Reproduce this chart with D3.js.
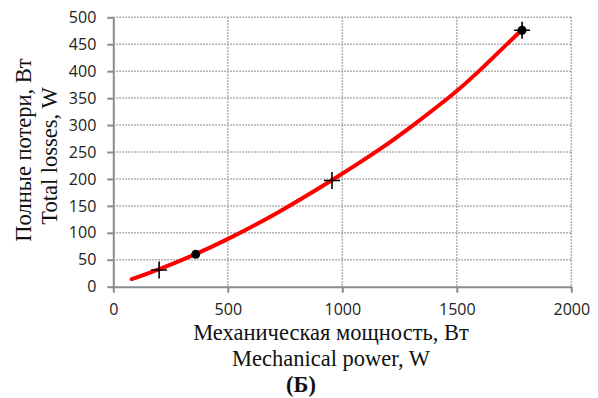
<!DOCTYPE html>
<html>
<head>
<meta charset="utf-8">
<script src="https://cdn.jsdelivr.net/npm/d3@7"></script>
<style>
  body { margin: 0; background: #fff; }
  .tick text { font-family: "Open Sans", sans-serif; font-size: 16px; fill: #222; }
  .title { font-family: "Liberation Serif", "Times New Roman", serif; font-size: 22.5px; fill: #111; }
</style>
</head>
<body>
<div id="chart"></div>
<script>
// curve
var curveX = [80, 200, 360, 500, 700, 955, 1174, 1305, 1500, 1590, 1706, 1785];
var curveY = [14, 32, 60, 88, 132, 197, 257, 298, 362, 397, 445, 477];

// measured points
var crossX = [200, 955, 1785];
var crossY = [31, 197, 476];
var dotX = [360, 1785];
var dotY = [60, 476];

var xTicks = [0, 500, 1000, 1500, 2000];
var yTicks = [0, 50, 100, 150, 200, 250, 300, 350, 400, 450, 500];

var width = 598, height = 398;
var plotLeft = 113.3, plotRight = 571.3, plotTop = 17.3, plotBottom = 286.7;

var svg = d3.select("#chart")
            .append("svg")
            .attr("width", width)
            .attr("height", height)

var x = d3.scaleLinear().domain([0, 2000]).range([plotLeft, plotRight])
var y = d3.scaleLinear().domain([0, 500]).range([plotBottom, plotTop])

// dotted grid
svg.append("g")
    .selectAll("line")
    .data(yTicks.slice(1))
    .enter()
    .append("line")
    .attr("x1", plotLeft).attr("x2", plotRight)
    .attr("y1", function(d) { return y(d) })
    .attr("y2", function(d) { return y(d) })
    .style("stroke", "#999")
    .style("stroke-width", 1.5)
    .style("stroke-dasharray", "1.5,1.5")

svg.append("g")
    .selectAll("line")
    .data(xTicks.slice(1))
    .enter()
    .append("line")
    .attr("y1", plotTop).attr("y2", plotBottom)
    .attr("x1", function(d) { return x(d) })
    .attr("x2", function(d) { return x(d) })
    .style("stroke", "#999")
    .style("stroke-width", 1.5)
    .style("stroke-dasharray", "1.5,1.5")

// axes
svg.append("g")
    .attr("transform", "translate(0," + plotBottom + ")")
    .call(d3.axisBottom(x).tickValues(xTicks).tickFormat(d3.format("d"))
        .tickSize(6).tickPadding(11).tickSizeOuter(0))
svg.append("g")
    .attr("transform", "translate(" + plotLeft + ",0)")
    .call(d3.axisLeft(y).tickValues(yTicks).tickFormat(d3.format("d"))
        .tickSize(6).tickPadding(11).tickSizeOuter(0))

svg.selectAll(".domain, .tick line")
    .style("stroke", "#8c8c8c")
    .style("stroke-width", 2)

// red curve
var pts = curveX.map(function(d, i) { return [d, curveY[i]] })
svg.append("path")
    .datum(pts)
    .attr("d", d3.line()
        .x(function(d) { return x(d[0]) })
        .y(function(d) { return y(d[1]) })
        .curve(d3.curveBasis))
    .style("fill", "none")
    .style("stroke", "#ff0000")
    .style("stroke-width", 4)
    .style("stroke-linecap", "round")

// dots
svg.append("g")
    .selectAll("circle")
    .data(dotX)
    .enter()
    .append("circle")
    .attr("cx", function(d) { return x(d) })
    .attr("cy", function(d, i) { return y(dotY[i]) })
    .attr("r", 4.5)
    .style("fill", "#000")

// crosses
svg.append("g")
    .selectAll("path")
    .data(crossX)
    .enter()
    .append("path")
    .attr("transform", function(d, i) { return "translate(" + x(d) + "," + y(crossY[i]) + ")" })
    .attr("d", "M-8,0H8M0,-8.5V8.5")
    .style("stroke", "#000")
    .style("stroke-width", 1.6)

// titles
svg.append("text").attr("class", "title")
    .attr("x", 331).attr("y", 340)
    .attr("text-anchor", "middle")
    .text("Механическая мощность, Вт")
svg.append("text").attr("class", "title")
    .attr("x", 331).attr("y", 366)
    .attr("text-anchor", "middle")
    .text("Mechanical power, W")
svg.append("text").attr("class", "title")
    .attr("x", 301).attr("y", 392)
    .attr("text-anchor", "middle")
    .style("font-weight", "bold")
    .text("(Б)")

svg.append("text").attr("class", "title")
    .attr("transform", "translate(31,150) rotate(-90)")
    .attr("text-anchor", "middle")
    .text("Полные потери, Вт")
svg.append("text").attr("class", "title")
    .attr("transform", "translate(57,156) rotate(-90)")
    .attr("text-anchor", "middle")
    .text("Total losses, W")
</script>
</body>
</html>
